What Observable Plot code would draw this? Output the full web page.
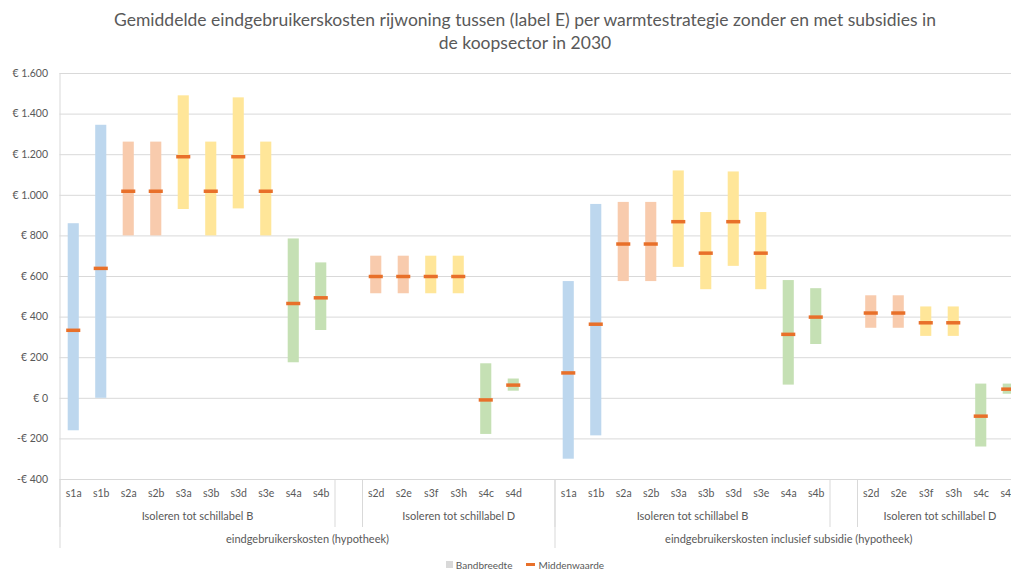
<!DOCTYPE html>
<html><head><meta charset="utf-8">
<script src="https://cdn.jsdelivr.net/npm/d3@7"></script>
<script src="https://cdn.jsdelivr.net/npm/@observablehq/plot@0.6"></script>
<style>
html,body{margin:0;padding:0;background:#fff;overflow:hidden;}
#wrap{width:1050px;font-family:Lato,"Open Sans",sans-serif;color:#595959;}
#title{height:54px;box-sizing:border-box;padding-top:8px;text-align:center;font-size:17.5px;line-height:23px;}
#chart svg{display:block;}
#legend{height:17px;box-sizing:border-box;padding-top:4px;display:flex;justify-content:center;align-items:center;font-size:10px;gap:14px;}
#legend span.item{display:flex;align-items:center;gap:3px;}
</style></head>
<body><div id="wrap">
<div id="title"></div>
<div id="chart"></div>
<div id="legend"></div>
</div>
<script>
const titleLines = ["Gemiddelde eindgebruikerskosten rijwoning tussen (label E) per warmtestrategie zonder en met subsidies in", "de koopsector in 2030"];
const outerLabels = ["eindgebruikerskosten (hypotheek)", "eindgebruikerskosten inclusief subsidie (hypotheek)"];
const level2Labels = ["Isoleren tot schillabel B", "Isoleren tot schillabel D"];
const catsB = ["s1a","s1b","s2a","s2b","s3a","s3b","s3d","s3e","s4a","s4b"];
const catsD = ["s2d","s2e","s3f","s3h","s4c","s4d"];

// zonder subsidie
const lowB1  = [-160, 0, 800, 800, 930, 800, 933, 800, 175, 334];
const highB1 = [860, 1345, 1262, 1262, 1490, 1262, 1480, 1262, 785, 667];
const midB1  = [335, 640, 1020, 1020, 1190, 1020, 1190, 1020, 467, 495];
const lowD1  = [515, 515, 515, 515, -178, 35];
const highD1 = [700, 700, 700, 700, 170, 95];
const midD1  = [600, 600, 600, 600, -8, 65];
// inclusief subsidie
const lowB2  = [-300, -185, 575, 575, 645, 535, 650, 535, 65, 265];
const highB2 = [575, 955, 965, 965, 1120, 915, 1115, 915, 580, 540];
const midB2  = [125, 365, 760, 760, 870, 715, 870, 715, 315, 400];
const lowD2  = [345, 345, 305, 305, -240, 20];
const highD2 = [505, 505, 450, 450, 70, 70];
const midD2  = [420, 420, 372, 372, -88, 45];

const yTicks = [-400, -200, 0, 200, 400, 600, 800, 1000, 1200, 1400, 1600];
const legendLabels = ["Bandbreedte", "Middenwaarde"];
const familyColor = {s1: "#BDD7EE", s2: "#F8CBAD", s3: "#FFE699", s4: "#C5E0B4"};
const midColor = "#E8702A";
const gridColor = "#D9D9D9";
const textColor = "#595959";

document.getElementById("title").innerHTML = titleLines.join("<br>");

// build category slots (multi-level axis with blank spacer slots)
const slots = [];
function push(outer, level2, cat, low, high, mid) {
  slots.push({i: slots.length, outer, level2, cat, low, high, mid});
}
function addOuter(outer, lowB, highB, midB, lowD, highD, midD, trailing) {
  catsB.forEach((c, k) => push(outer, level2Labels[0], c, lowB[k], highB[k], midB[k]));
  push(outer, "", "", null, null, null);
  catsD.forEach((c, k) => push(outer, level2Labels[1], c, lowD[k], highD[k], midD[k]));
  if (trailing) push(outer, level2Labels[1], "", null, null, null);
}
addOuter(outerLabels[0], lowB1, highB1, midB1, lowD1, highD1, midD1, true);
addOuter(outerLabels[1], lowB2, highB2, midB2, lowD2, highD2, midD2, false);

const data = slots.filter(d => d.cat !== "");

function runs(key) {
  const out = [];
  for (const s of slots) {
    const k = key(s);
    const last = out[out.length - 1];
    if (last && last.key === k) last.end = s.i + 1;
    else out.push({key: k, label: k.split("|").pop(), start: s.i, end: s.i + 1});
  }
  return out;
}
const l2Runs = runs(s => s.outer + "|" + s.level2);
const outerRuns = runs(s => s.outer);
const l2Bounds = Array.from(new Set(l2Runs.flatMap(r => [r.start, r.end])));
const outerBounds = Array.from(new Set(outerRuns.flatMap(r => [r.start, r.end]))).filter(v => v !== 0);

const fmt = v => (v < 0 ? "-" : "") + "€ " + d3.format(",")(Math.abs(v)).replace(/,/g, ".");

const plot = Plot.plot({
  width: 1050,
  height: 500,
  marginTop: 19,
  marginBottom: 75,
  marginLeft: 59.5,
  marginRight: 28,
  style: {fontFamily: "Lato, 'Open Sans', sans-serif", color: textColor, background: "#fff"},
  x: {domain: [0, slots.length], axis: null},
  y: {domain: [-400, 1600], axis: null},
  marks: [
    Plot.ruleY(yTicks, {stroke: gridColor, strokeWidth: 1}),
    Plot.axisY({ticks: yTicks, tickFormat: fmt, tickSize: 0, tickPadding: 12, fontSize: 10.5, fill: textColor}),
    Plot.rectY(data, {x1: d => d.i, x2: d => d.i + 1, y1: "low", y2: "high", fill: d => familyColor[d.cat.slice(0, 2)], insetLeft: 8.2, insetRight: 8.2}),
    Plot.ruleY(data, {y: "mid", x1: d => d.i, x2: d => d.i + 1, stroke: midColor, strokeWidth: 3.5, insetLeft: 6.7, insetRight: 6.7}),
    // category separators below the axis
    Plot.ruleX(l2Bounds, {x: d => d, y1: -400, y2: -400, insetBottom: -48, stroke: gridColor}),
    Plot.ruleX(outerBounds, {x: d => d, y1: -400, y2: -400, insetBottom: -69, stroke: gridColor}),
    Plot.ruleX([0], {x: d => d, y1: 1600, y2: -400, insetBottom: -69, stroke: gridColor}),
    // labels
    Plot.text(data, {x: d => d.i + 0.5, text: "cat", frameAnchor: "bottom", dy: 17, fontSize: 10.5, fill: textColor}),
    Plot.text(l2Runs.filter(r => r.label !== ""), {x: r => (r.start + r.end) / 2, text: "label", frameAnchor: "bottom", dy: 40, fontSize: 11, fill: textColor}),
    Plot.text(outerRuns, {x: r => (r.start + r.end) / 2, text: "label", frameAnchor: "bottom", dy: 63, fontSize: 11, fill: textColor})
  ]
});
document.getElementById("chart").appendChild(plot);

const lg = document.getElementById("legend");
lg.innerHTML =
  `<span class="item"><span style="display:inline-block;width:7px;height:7px;background:#D9D9D9"></span>${legendLabels[0]}</span>` +
  `<span class="item"><span style="display:inline-block;width:9px;height:3px;background:${midColor}"></span>${legendLabels[1]}</span>`;
</script>
</body></html>
